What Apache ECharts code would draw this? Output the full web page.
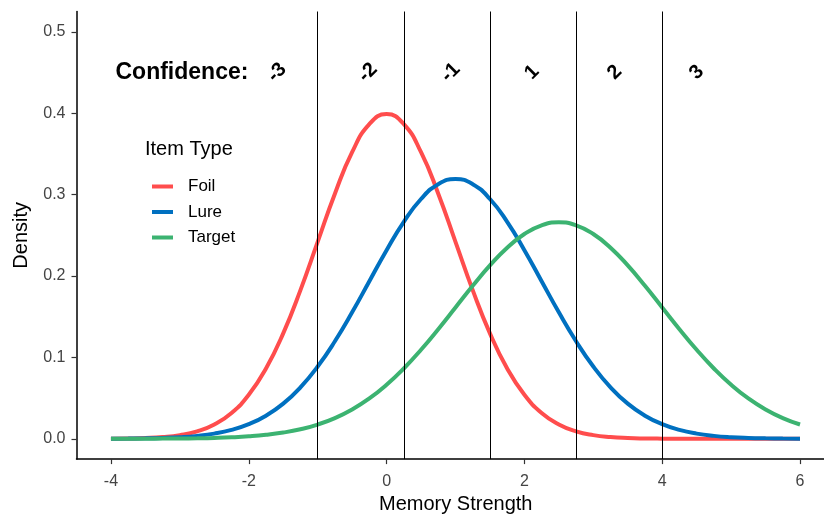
<!DOCTYPE html>
<html><head><meta charset="utf-8">
<script src="https://cdn.jsdelivr.net/npm/echarts@6/dist/echarts.min.js"></script>
<style>html,body{margin:0;padding:0;background:#fff}#c{width:824px;height:519px}</style>
</head><body><div id="c"></div>
<script>
const xValues = [-4,-3.75,-3.5,-3.25,-3,-2.75,-2.5,-2.25,-2,-1.75,-1.5,-1.25,-1,-0.75,-0.5,-0.25,0,0.25,0.5,0.75,1,1.25,1.5,1.75,2,2.25,2.5,2.75,3,3.25,3.5,3.75,4,4.25,4.5,4.75,5,5.25,5.5,5.75,6];
const foil = [0.00013,0.00035,0.00087,0.00203,0.00443,0.00909,0.01753,0.03174,0.05399,0.08628,0.12952,0.18265,0.24197,0.30114,0.35207,0.38667,0.39894,0.38667,0.35207,0.30114,0.24197,0.18265,0.12952,0.08628,0.05399,0.03174,0.01753,0.00909,0.00443,0.00203,0.00087,0.00035,0.00013,0.00005,0.00002,0.00001,0,0,0,0,0];
const lure = [0.00011,0.00023,0.00049,0.00099,0.00191,0.00355,0.00633,0.01087,0.01791,0.02838,0.04319,0.06316,0.08874,0.11978,0.15535,0.19358,0.23175,0.26658,0.29462,0.31284,0.31915,0.31284,0.29462,0.26658,0.23175,0.19358,0.15535,0.11978,0.08874,0.06316,0.04319,0.02838,0.01791,0.01087,0.00633,0.00355,0.00191,0.00099,0.00049,0.00023,0.00011];
const target = [0.00002,0.00005,0.00009,0.00017,0.00032,0.00058,0.00103,0.00177,0.00296,0.00480,0.00760,0.01169,0.01748,0.02544,0.03599,0.04954,0.06632,0.08634,0.10934,0.13467,0.16131,0.18794,0.21297,0.23471,0.25159,0.26229,0.26596,0.26229,0.25159,0.23471,0.21297,0.18794,0.16131,0.13467,0.10934,0.08634,0.06632,0.04954,0.03599,0.02544,0.01748];
const seriesNames = ['Foil','Lure','Target'];
const seriesColors = ['#FF4D4D','#0070C0','#3CB371'];
const cutoffs = [-1, 0.25, 1.5, 2.75, 4];
const confLabels = ['-3','-2','-1','1','2','3'];
const confLabelX = [-1.59, -0.27, 0.93, 2.11, 3.31, 4.5];
const confHeaderX = -2.97;
const confY = 0.45;
const xTicks = [-4,-2,0,2,4,6];
const yTicks = [0,0.1,0.2,0.3,0.4,0.5];

const FONT = 'Liberation Sans, Arial, sans-serif';
const chart = echarts.init(document.getElementById('c'), null, {renderer:'canvas'});

const curves = [foil, lure, target].map((vals, i) => ({
  name: seriesNames[i], type: 'line', smooth: true, symbol: 'none',
  data: xValues.map((x, j) => [x, vals[j]]),
  lineStyle: {color: seriesColors[i], width: 4},
  itemStyle: {color: seriesColors[i]},
  z: 2
}));

const labelData = [{value: [confHeaderX, confY, 'Confidence:'], label: {rotate: 0, fontSize: 23, color: '#000'}}]
  .concat(confLabels.map((t, i) => ({value: [confLabelX[i], confY, t], label: {rotate: 45, fontSize: 20, color: '#000'}})));

chart.setOption({
  animation: false,
  backgroundColor: '#fff',
  textStyle: {fontFamily: FONT},
  grid: {left: 76.5, right: 0, top: 11.5, bottom: 56.5, containLabel: false},
  xAxis: {
    type: 'value', min: -4.5, max: 6.348,
    name: 'Memory Strength', nameLocation: 'middle', nameGap: 33,
    nameTextStyle: {fontSize: 20, color: '#000', fontFamily: FONT, padding: [0,0,0,11]},
    axisLine: {onZero: false, lineStyle: {color: '#000', width: 1.5}},
    axisTick: {show: true, length: 5, lineStyle: {color: '#333', width: 1.2}, customValues: xTicks},
    axisLabel: {color: '#444', fontSize: 16, margin: 14, fontFamily: FONT, customValues: xTicks},
    splitLine: {show: false}
  },
  yAxis: {
    type: 'value', min: -0.025, max: 0.525,
    name: 'Density', nameLocation: 'middle', nameGap: 45,
    nameTextStyle: {fontSize: 20, color: '#000', fontFamily: FONT},
    axisLine: {show: true, onZero: false, lineStyle: {color: '#000', width: 1.5}},
    axisTick: {show: true, length: 5, lineStyle: {color: '#333', width: 1.2}, customValues: yTicks},
    axisLabel: {color: '#444', fontSize: 16, margin: 11, fontFamily: FONT, customValues: yTicks,
      formatter: v => v.toFixed(1)},
    splitLine: {show: false}
  },
  legend: {
    orient: 'vertical', left: 147, top: 173,
    data: seriesNames.map(n => ({name: n, icon: 'rect'})),
    itemWidth: 21, itemHeight: 4, itemGap: 8.5,
    textStyle: {fontSize: 17, color: '#000', fontFamily: FONT, padding: [0,0,0,10]}
  },
  graphic: [{type: 'text', left: 145, top: 139, style: {text: 'Item Type', fontSize: 20, fill: '#000', fontFamily: FONT}}],
  series: curves.concat([{
    name: 'conf', type: 'scatter', symbolSize: 1,
    itemStyle: {color: 'rgba(0,0,0,0)', opacity: 1},
    data: labelData,
    label: {show: true, position: 'inside', formatter: p => p.value[2], color: '#000', textBorderWidth: 0, fontWeight: 'bold', fontFamily: FONT},
    markLine: {
      silent: true, symbol: ['none','none'], label: {show: false},
      lineStyle: {color: '#000', width: 1, type: 'solid', opacity: 1},
      data: cutoffs.map(c => ({xAxis: c}))
    },
    z: 3
  }])
});
</script></body></html>
